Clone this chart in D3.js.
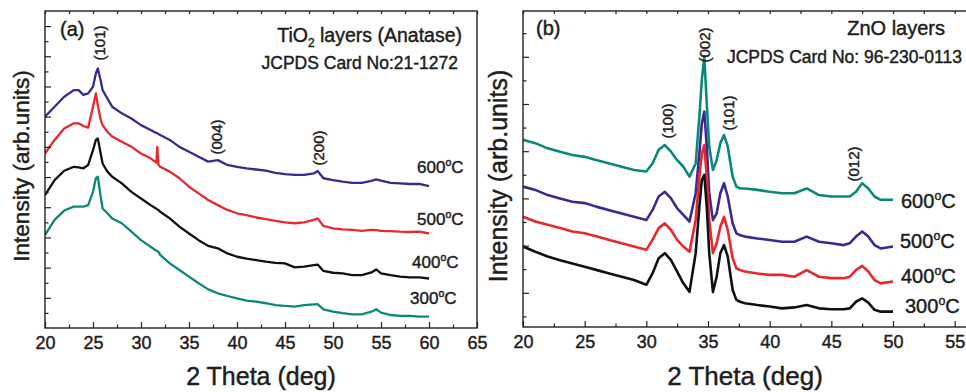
<!DOCTYPE html>
<html>
<head>
<meta charset="utf-8">
<script src="https://cdn.jsdelivr.net/npm/d3@7"></script>
<style>
    html, body { margin: 0; padding: 0; background: #fff; }
    svg { display: block; font-family: Arial, "Liberation Sans", sans-serif; }
    svg text { stroke: #1e1e1e; stroke-width: 0.45px; }
</style>
</head>
<body>
<svg id="xrd" width="966" height="392"></svg>
<script>
/* ---- panel (a): TiO2 (anatase) ---- */
var thetaA = [20,21,22,23,23.5,24,24.5,25,25.3,25.5,25.8,26,26.5,27,28,29,30,31,31.6,31.7,31.8,
    32,33,34,35,36,37,38,39,40,41,42,43,44,45,46,47,48,48.4,49,50,51,52,53,54,54.5,55,56,57,58,59,60];
var tio2_600 = [7.00,7.33,7.66,7.88,7.88,7.72,7.77,7.99,8.43,8.60,8.20,7.88,7.60,7.33,7.11,6.94,6.72,6.56,6.46,6.45,6.43,
    6.39,6.23,6.00,5.84,5.67,5.51,5.56,5.40,5.34,5.29,5.25,5.21,5.14,5.10,5.07,5.07,5.12,5.20,4.96,4.90,4.85,4.81,4.81,4.87,4.92,4.88,4.81,4.79,4.77,4.77,4.70];
var tio2_500 = [5.78,6.23,6.61,6.78,6.78,6.69,6.64,7.33,7.77,7.38,6.90,6.72,6.50,6.34,6.17,6.00,5.78,5.62,5.48,6.00,5.42,
    5.34,5.18,4.96,4.68,4.46,4.24,4.07,3.91,3.80,3.74,3.66,3.61,3.55,3.50,3.47,3.50,3.58,3.63,3.38,3.30,3.27,3.25,3.22,3.25,3.24,3.22,3.21,3.19,3.18,3.19,3.13];
var tio2_400 = [4.40,4.90,5.21,5.34,5.32,5.29,5.40,5.89,6.23,6.28,5.78,5.45,5.18,5.01,4.79,4.51,4.29,4.07,3.95,3.93,3.91,
    3.85,3.63,3.36,3.13,2.91,2.72,2.64,2.47,2.36,2.30,2.25,2.20,2.16,2.14,2.01,2.03,2.08,2.10,1.89,1.83,1.81,1.75,1.75,1.84,1.94,1.81,1.75,1.70,1.68,1.68,1.64];
var tio2_300 = [3.08,3.58,3.89,4.02,4.02,4.02,4.07,4.51,4.96,5.01,4.35,3.96,3.80,3.63,3.47,3.19,2.91,2.69,2.56,2.55,2.53,
    2.42,2.14,1.92,1.70,1.48,1.28,1.15,1.06,0.98,0.91,0.87,0.82,0.76,0.73,0.71,0.76,0.78,0.79,0.62,0.54,0.49,0.45,0.45,0.54,0.62,0.51,0.43,0.40,0.40,0.38,0.38];
var peaksA = [{hkl: "(101)", theta: 25.7}, {hkl: "(004)", theta: 37.9}, {hkl: "(200)", theta: 48.5}];

/* ---- panel (b): ZnO ---- */
var thetaB = [20,21,22,23,24,25,26,27,28,29,30,30.5,31,31.5,32,32.5,33,33.5,34,34.3,34.5,34.7,34.9,35.1,35.4,35.7,
    36,36.3,36.6,37,37.3,37.6,38,39,40,41,42,43,44,45,46,46.5,47,47.5,48,48.5,49,50];
var zno_600 = [4.24,4.17,4.06,3.99,3.92,3.88,3.81,3.74,3.67,3.60,3.57,3.74,4.03,4.13,3.99,3.81,3.67,3.46,3.74,
    4.73,5.51,6.00,5.01,4.10,3.60,3.81,4.17,4.34,4.10,3.46,3.25,3.21,3.21,3.18,3.14,3.11,3.11,3.21,3.07,3.04,3.04,3.04,3.14,3.32,3.21,3.04,2.97,2.97];
var zno_500 = [3.25,3.18,3.07,3.00,2.93,2.90,2.82,2.75,2.68,2.61,2.54,2.75,3.04,3.14,3.00,2.79,2.65,2.51,3.11,
    3.95,4.59,4.84,4.10,3.11,2.54,2.68,3.11,3.32,3.04,2.47,2.26,2.22,2.19,2.15,2.12,2.08,2.08,2.19,2.08,2.05,2.01,2.05,2.19,2.30,2.19,2.01,1.94,1.98];
var zno_400 = [2.61,2.51,2.44,2.37,2.30,2.26,2.19,2.12,2.05,1.98,1.91,2.12,2.37,2.47,2.33,2.12,1.98,1.87,2.54,
    3.46,3.95,4.13,3.46,2.54,1.84,2.05,2.40,2.61,2.33,1.73,1.52,1.48,1.45,1.41,1.38,1.38,1.34,1.48,1.34,1.31,1.31,1.34,1.48,1.57,1.45,1.27,1.20,1.24];
var zno_300 = [1.98,1.87,1.77,1.69,1.62,1.55,1.48,1.41,1.34,1.27,1.17,1.41,1.73,1.84,1.69,1.45,1.20,1.02,1.84,
    2.82,3.39,3.50,2.82,1.84,1.02,1.34,1.84,2.01,1.77,1.06,0.85,0.81,0.78,0.74,0.71,0.67,0.69,0.74,0.67,0.65,0.65,0.67,0.81,0.88,0.79,0.64,0.60,0.60];
var peaksB = [{hkl: "(100)", theta: 31.7}, {hkl: "(002)", theta: 34.76}, {hkl: "(101)", theta: 36.7}, {hkl: "(012)", theta: 46.8}];

var temps = ["600", "500", "400", "300"];

var TEAL = "#0a897a", PURPLE = "#3b2a8e", RED = "#e8282d", BLACK = "#111111", INK = "#1e1e1e";

var svg = d3.select("#xrd");

// superscript degree written as a raised "o", like the original figure
function tempLabel(g, t, x, yb, size){
    var txt = g.append("text").attr("x", x).attr("y", yb)
        .attr("font-size", size).attr("fill", INK);
    txt.append("tspan").text(t);
    txt.append("tspan").attr("dy", -size * 0.42).attr("font-size", size * 0.62).text("o");
    txt.append("tspan").attr("dy", size * 0.42).text("C");
}

function drawPanel(p){
    var g = svg.append("g");
    var x = d3.scaleLinear().domain(p.xDomain).range([p.left, p.right]);
    var y = d3.scaleLinear().domain(p.yDomain).range([p.bottom, p.top]);

    // clip the curves to the frame
    g.append("clipPath").attr("id", p.id + "-clip")
        .append("rect")
        .attr("x", p.left).attr("y", p.top)
        .attr("width", p.right - p.left).attr("height", p.bottom - p.top);

    var line = d3.line()
        .x(function(d){ return x(d[0]); })
        .y(function(d){ return y(d[1]); });

    var curves = g.append("g").attr("clip-path", "url(#" + p.id + "-clip)");
    p.series.forEach(function(s){
        curves.append("path")
            .datum(d3.zip(p.theta, s.values))
            .attr("d", line)
            .attr("fill", "none")
            .attr("stroke", s.color)
            .attr("stroke-width", p.lineWidth)
            .attr("stroke-linejoin", "round");
    });

    // axes: ticks point inward, no labels on the intensity axis
    function styleAxis(sel){
        sel.select(".domain").remove();
        sel.selectAll(".tick line").attr("stroke", "#222").attr("stroke-width", 1.2);
    }
    var bottom = g.append("g").attr("transform", "translate(0," + p.bottom + ")")
        .call(d3.axisBottom(x).tickValues(p.xMajor).tickSize(-6).tickSizeOuter(0).tickPadding(8)
            .tickFormat(d3.format("d")));
    styleAxis(bottom);
    bottom.selectAll(".tick text")
        .attr("font-family", "Arial, 'Liberation Sans', sans-serif")
        .attr("font-size", p.tickFont).attr("fill", INK);
    g.append("g").attr("transform", "translate(0," + p.bottom + ")")
        .call(d3.axisBottom(x).tickValues(p.xMinor).tickSize(-3.5).tickSizeOuter(0).tickFormat(""))
        .call(styleAxis);
    g.append("g").attr("transform", "translate(0," + p.top + ")")
        .call(d3.axisTop(x).tickValues(p.xMajor.concat(p.xMinor)).tickSize(-3).tickSizeOuter(0).tickFormat(""))
        .call(styleAxis);
    g.append("g").attr("transform", "translate(" + p.left + ",0)")
        .call(d3.axisLeft(y).tickValues(p.yMajor).tickSize(-6).tickSizeOuter(0).tickFormat(""))
        .call(styleAxis);
    g.append("g").attr("transform", "translate(" + p.left + ",0)")
        .call(d3.axisLeft(y).tickValues(p.yMinor).tickSize(-3.5).tickSizeOuter(0).tickFormat(""))
        .call(styleAxis);

    g.append("rect")
        .attr("x", p.left).attr("y", p.top)
        .attr("width", p.right - p.left).attr("height", p.bottom - p.top)
        .attr("fill", "none").attr("stroke", "#222").attr("stroke-width", 1.4);

    // axis titles
    g.append("text")
        .attr("x", (p.left + p.right) / 2).attr("y", 385)
        .attr("text-anchor", "middle").attr("font-size", p.titleFont).attr("fill", INK)
        .text("2 Theta (deg)");
    g.append("text")
        .attr("transform", "translate(" + p.yTitle[0] + "," + p.yTitle[1] + ") rotate(-90)")
        .attr("text-anchor", "middle").attr("font-size", p.yTitleFont).attr("fill", INK)
        .text("Intensity (arb.units)");

    // panel letter and header lines
    g.append("text").attr("x", p.letter[0]).attr("y", p.letter[1])
        .attr("font-size", 20).attr("fill", INK).text(p.letter[2]);
    p.header(g);

    // Miller indices, rotated, above each reflection
    p.peaks.forEach(function(pk, i){
        var cx = x(pk.theta), cy = p.peakY[i];
        g.append("text")
            .attr("transform", "translate(" + cx + "," + cy + ") rotate(-90)")
            .attr("text-anchor", "middle").attr("dy", "0.35em")
            .attr("font-size", 15).attr("fill", INK)
            .text(pk.hkl);
    });

    temps.forEach(function(t, i){
        var pos = p.tempPos[i];
        tempLabel(g, t, pos[0], pos[1], p.tempFont);
    });
}

drawPanel({
    id: "a",
    left: 45, right: 477, top: 11, bottom: 328,
    xDomain: [20, 65], yDomain: [0, 10.5],
    xMajor: d3.range(20, 66, 5), xMinor: d3.range(22.5, 65, 5),
    yMajor: d3.range(1, 11), yMinor: d3.range(0.5, 10.5, 1),
    theta: thetaA,
    series: [
        {values: tio2_300, color: TEAL},
        {values: tio2_400, color: BLACK},
        {values: tio2_500, color: RED},
        {values: tio2_600, color: PURPLE}
    ],
    lineWidth: 2.3,
    tickFont: 18, titleFont: 25, yTitleFont: 22.5,
    yTitle: [29, 166],
    letter: [60, 36, "(a)"],
    header: function(g){
        var t = g.append("text").attr("x", 462).attr("y", 42).attr("text-anchor", "end")
            .attr("font-size", 19.5).attr("fill", INK);
        t.append("tspan").text("TiO");
        t.append("tspan").attr("dy", 5).attr("font-size", 12).text("2");
        t.append("tspan").attr("dy", -5).text(" layers (Anatase)");
        g.append("text").attr("x", 458).attr("y", 69).attr("text-anchor", "end")
            .attr("font-size", 17.5).attr("fill", INK).text("JCPDS Card No:21-1272");
    },
    peaks: peaksA, peakY: [43, 137, 148],
    tempPos: [[417, 173], [417, 225], [412, 268], [410, 304]],
    tempFont: 17
});

drawPanel({
    id: "b",
    left: 523, right: 967, top: 11, bottom: 327,
    xDomain: [20, 56], yDomain: [0.275, 6.97],
    xMajor: d3.range(20, 56, 5), xMinor: d3.range(22.5, 56, 5),
    yMajor: d3.range(1, 7), yMinor: d3.range(0.5, 7, 1),
    theta: thetaB,
    series: [
        {values: zno_600, color: TEAL},
        {values: zno_500, color: PURPLE},
        {values: zno_400, color: RED},
        {values: zno_300, color: BLACK}
    ],
    lineWidth: 2.6,
    tickFont: 18, titleFont: 26, yTitleFont: 25,
    yTitle: [507, 176],
    letter: [536, 35, "(b)"],
    header: function(g){
        g.append("text").attr("x", 945).attr("y", 35).attr("text-anchor", "end")
            .attr("font-size", 20).attr("fill", INK).text("ZnO layers");
        g.append("text").attr("x", 962).attr("y", 63).attr("text-anchor", "end")
            .attr("font-size", 17.5).attr("fill", INK).text("JCPDS Card No: 96-230-0113");
    },
    peaks: peaksB, peakY: [121, 45, 113, 164],
    tempPos: [[901, 208], [900, 248], [901, 283], [905, 313]],
    tempFont: 20
});
</script>
</body>
</html>
